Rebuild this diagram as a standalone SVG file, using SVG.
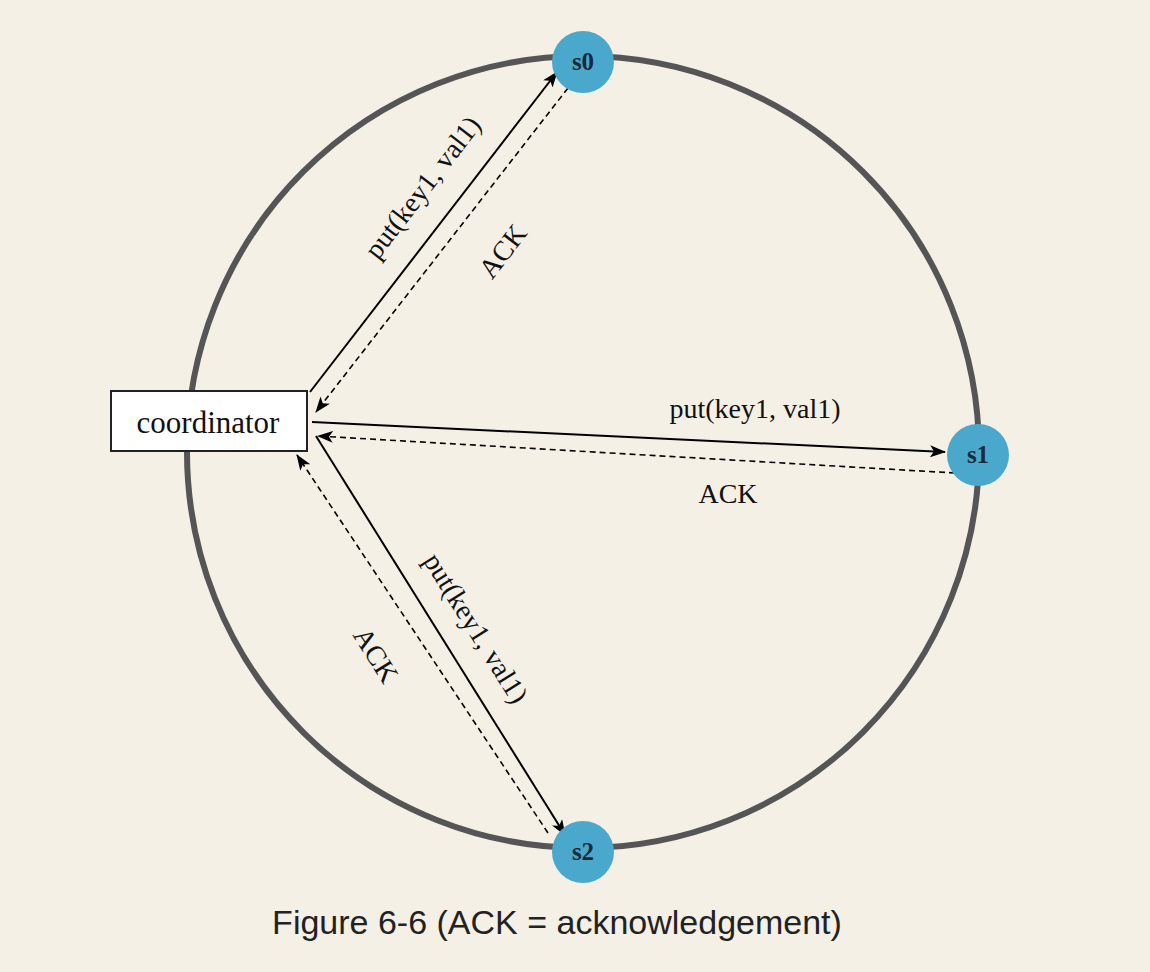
<svg xmlns="http://www.w3.org/2000/svg" width="1150" height="972" viewBox="0 0 1150 972">
<defs>
<marker id="ah" markerWidth="16" markerHeight="12" refX="15" refY="6" orient="auto" markerUnits="userSpaceOnUse"><path d="M0,0 L16,6 L0,12 L4,6 Z" fill="#000"/></marker>
<style>
.t{font-family:"Liberation Serif",serif;font-size:28px;fill:#111}
.n{font-family:"Liberation Serif",serif;font-size:25px;fill:#1a2a3a;font-weight:bold}
.s{stroke:#000;stroke-width:2;fill:none;marker-end:url(#ah)}
.d{stroke:#000;stroke-width:1.6;fill:none;stroke-dasharray:6,4;marker-end:url(#ah)}
.node{fill:#4aa8cc}
</style>
</defs>
<rect width="1150" height="972" fill="#f5f0e6"/>
<circle cx="583" cy="452" r="396" fill="none" stroke="#555" stroke-width="6"/>
<g id="connectors">
<line class="s" x1="310" y1="392" x2="557" y2="72"/>
<line class="d" x1="568" y1="88" x2="316" y2="412"/>
<line class="s" x1="312" y1="422" x2="945" y2="452"/>
<line class="d" x1="955" y1="473" x2="318" y2="436"/>
<line class="s" x1="316" y1="436" x2="565" y2="835"/>
<line class="d" x1="548" y1="833" x2="297" y2="455"/>
<text class="t" transform="translate(430,193) rotate(-52.3)" text-anchor="middle">put(key1, val1)</text>
<text class="t" transform="translate(510,257) rotate(-52.3)" text-anchor="middle">ACK</text>
<text class="t" x="755" y="418" text-anchor="middle">put(key1, val1)</text>
<text class="t" x="728" y="503" text-anchor="middle">ACK</text>
<text class="t" transform="translate(468,633) rotate(58)" text-anchor="middle">put(key1, val1)</text>
<text class="t" transform="translate(368,660) rotate(58)" text-anchor="middle">ACK</text>
</g>
<g id="coordinator"><rect x="111" y="391" width="196" height="60" fill="#fff" stroke="#222" stroke-width="2"/><text class="t" x="208" y="433" text-anchor="middle" style="font-size:31px">coordinator</text></g>
<g id="s0"><circle class="node" cx="583" cy="62" r="31"/><text class="n" x="583" y="70" text-anchor="middle">s0</text></g>
<g id="s1"><circle class="node" cx="978" cy="455" r="31"/><text class="n" x="978" y="463" text-anchor="middle">s1</text></g>
<g id="s2"><circle class="node" cx="583" cy="852" r="31"/><text class="n" x="583" y="860" text-anchor="middle">s2</text></g>
<text x="557" y="934" text-anchor="middle" style="font-family:'Liberation Sans',sans-serif;font-size:34px;fill:#222">Figure 6-6 (ACK = acknowledgement)</text>
</svg>
